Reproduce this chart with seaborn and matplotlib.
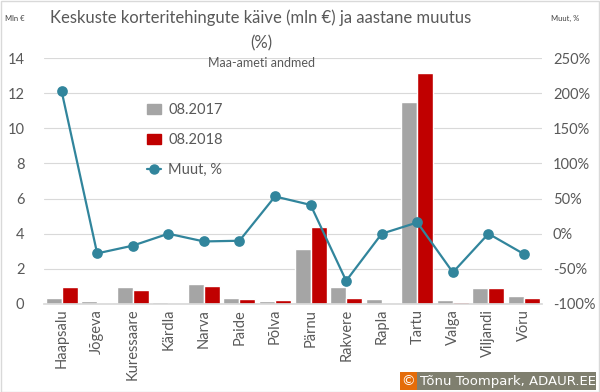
import numpy as np
import pandas as pd
import matplotlib
matplotlib.use("Agg")
import matplotlib.pyplot as plt
import seaborn as sns
from matplotlib.patches import Rectangle
from matplotlib.lines import Line2D

# Data
cities = ['Haapsalu', 'Jõgeva', 'Kuressaare', 'Kärdla', 'Narva', 'Paide', 'Põlva',
          'Pärnu', 'Rakvere', 'Rapla', 'Tartu', 'Valga', 'Viljandi', 'Võru']
turnover_2017 = [0.33, 0.17, 0.99, 0.11, 1.14, 0.34, 0.15, 3.11, 0.99, 0.27, 11.5, 0.23, 0.91, 0.46]
turnover_2018 = [0.98, 0.07, 0.80, 0.0, 1.00, 0.27, 0.21, 4.36, 0.32, 0.0, 13.15, 0.10, 0.91, 0.32]
change_pct = [203, -28, -17, 0, -11, -10, 53, 41, -67, 0, 16, -55, 0, -29]
periods = ['08.2017', '08.2018']

text_col = '#595959'
grid_col = '#D9D9D9'
bar_cols = ['#A5A5A5', '#C00000']
line_col = '#31859C'

sns.set_theme(style='white')
plt.rcParams['font.family'] = ['Lato', 'DejaVu Sans']

df = pd.DataFrame({
    'city': cities * 2,
    'value': turnover_2017 + turnover_2018,
    'period': [periods[0]] * len(cities) + [periods[1]] * len(cities),
})

fig = plt.figure(figsize=(6, 3.92), dpi=100)
ax = fig.add_axes([0.073, 0.2245, 0.83, 0.6275])

sns.barplot(data=df, x='city', y='value', hue='period', palette=bar_cols,
            width=0.9, gap=0.0, saturation=1, ax=ax, legend=False)
ax.set_ylim(0, 14)
ax.set_yticks(range(0, 15, 2))
ax.set_xlim(-0.5, len(cities) - 0.5)
ax.yaxis.grid(True, color=grid_col, linewidth=0.8)
ax.set_axisbelow(True)
for s in ['top', 'right', 'left']:
    ax.spines[s].set_visible(False)
ax.spines['bottom'].set_color(grid_col)
ax.set_xlabel('')
ax.set_ylabel('')
ax.tick_params(axis='y', colors=text_col, labelsize=10.5, length=0, pad=14)
ax.tick_params(axis='x', colors=text_col, labelsize=10.5, length=0, rotation=90)

ax2 = ax.twinx()
sns.pointplot(x=cities, y=change_pct, color=line_col, markers='o',
              markersize=6.5, linewidth=1.6, ax=ax2)
ax2.set_ylim(-100, 250)
ax2.set_yticks(range(-100, 251, 50))
ax2.set_yticklabels([f'{v}%' for v in range(-100, 251, 50)])
ax2.set_xlim(-0.5, len(cities) - 0.5)
for s in ['top', 'right', 'left', 'bottom']:
    ax2.spines[s].set_visible(False)
ax2.tick_params(axis='y', colors=text_col, labelsize=10.5, length=0, pad=8)
ax2.set_ylabel('')

handles = [
    Rectangle((0, 0), 1, 1, color=bar_cols[0]),
    Rectangle((0, 0), 1, 1, color=bar_cols[1]),
    Line2D([0], [0], color=line_col, marker='o', markersize=6.5, linewidth=1.6),
]
ax2.legend(handles, periods + ['Muut, %'], loc='upper left',
           bbox_to_anchor=(0.18, 0.87), frameon=False, labelspacing=1.1,
           fontsize=10.5, labelcolor=text_col, handlelength=1.0, handletextpad=0.5)

fig.text(0.435, 0.955, 'Keskuste korteritehingute käive (mln €) ja aastane muutus',
         ha='center', va='center', fontsize=12, color=text_col)
fig.text(0.435, 0.89, '(%)', ha='center', va='center', fontsize=12, color=text_col)
fig.text(0.435, 0.84, 'Maa-ameti andmed', ha='center', va='center', fontsize=9, color=text_col)
fig.text(0.008, 0.953, 'Mln €', ha='left', va='center', fontsize=5.5, color='#404040')
fig.text(0.918, 0.953, 'Muut, %', ha='left', va='center', fontsize=5.5, color='#404040')

# copyright badge
fig.patches.append(Rectangle((400 / 600, 2 / 392), 17 / 600, 18 / 392,
                             transform=fig.transFigure, fc='#E46C0A', ec='none'))
fig.patches.append(Rectangle((417 / 600, 2 / 392), 179 / 600, 18 / 392,
                             transform=fig.transFigure, fc='#7F7F6F', ec='none'))
fig.text(408.5 / 600, 11 / 392, '©', ha='center', va='center', fontsize=10, color='white')
fig.text(420 / 600, 11 / 392, 'Tõnu Toompark, ADAUR.EE', ha='left', va='center',
         fontsize=9.5, color='white', family=['DejaVu Sans'])

fig.patches.append(Rectangle((0.001, 0.001), 0.997, 0.997, transform=fig.transFigure,
                             fill=False, ec='#D9D9D9', lw=1))

fig.savefig('out.png', dpi=100)
